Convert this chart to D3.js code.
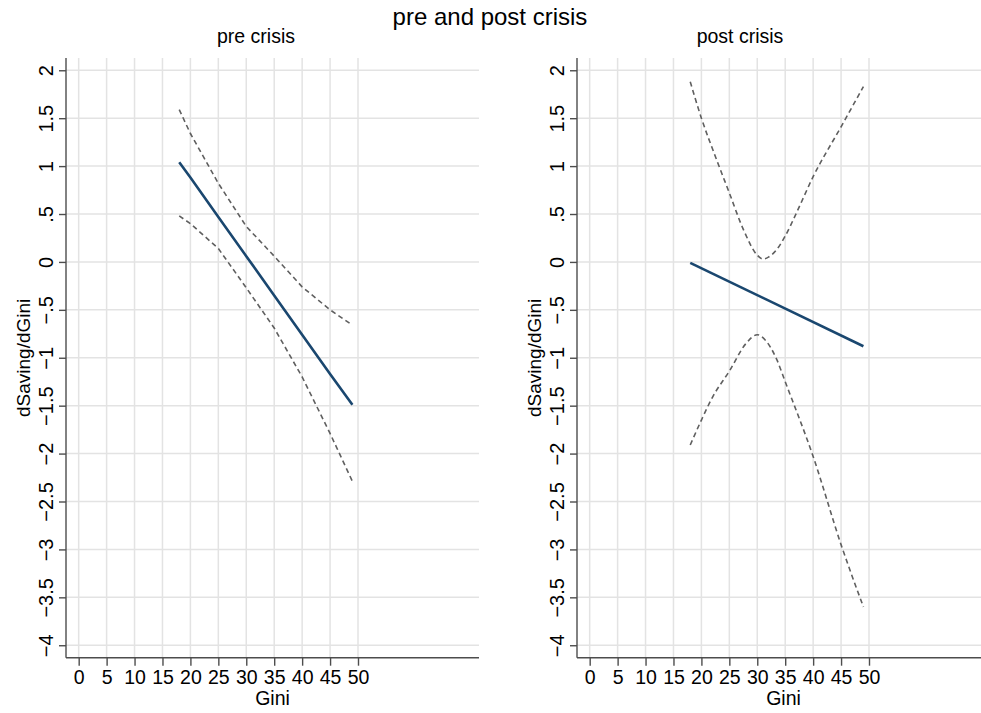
<!DOCTYPE html>
<html>
<head>
<meta charset="utf-8">
<script src="https://cdn.jsdelivr.net/npm/d3@7"></script>
<style>
  html, body { margin: 0; padding: 0; background: #fff; }
  svg { display: block; }
  text { font-family: "Liberation Sans", Arial, Helvetica, sans-serif; fill: #000; }
</style>
</head>
<body>
<script>
// ---- data ----
const chartTitle = "pre and post crisis";
const panelTitles = ["pre crisis", "post crisis"];
const xTicks = [0, 5, 10, 15, 20, 25, 30, 35, 40, 45, 50];
const yTicks = [2, 1.5, 1, 0.5, 0, -0.5, -1, -1.5, -2, -2.5, -3, -3.5, -4];
const yTickLabels = ["2", "1.5", "1", ".5", "0", "\u2212.5", "\u22121", "\u22121.5", "\u22122", "\u22122.5", "\u22123", "\u22123.5", "\u22124"];
const xTitle = "Gini";
const yTitle = "dSaving/dGini";

// pre crisis
const preGini   = [18, 20, 25, 30, 35, 40, 45, 49];
const preEffect = [1.04, 0.88, 0.47, 0.06, -0.35, -0.76, -1.17, -1.49];
const preUpper  = [1.59, 1.34, 0.82, 0.37, 0.06, -0.26, -0.50, -0.66];
const preLower  = [0.48, 0.40, 0.14, -0.27, -0.69, -1.20, -1.79, -2.29];

// post crisis
const postGini   = [18, 49];
const postEffect = [-0.01, -0.88];
const postUpperGini = [18, 20, 22.5, 25, 27.5, 30, 31, 32, 33.5, 35, 37, 40, 45, 49];
const postUpper     = [1.88, 1.50, 1.10, 0.72, 0.34, 0.07, 0.03, 0.05, 0.13, 0.27, 0.51, 0.89, 1.41, 1.83];
const postLowerGini = [18, 20, 22, 25, 28, 30, 31.5, 33.5, 35, 40, 45, 49];
const postLower     = [-1.91, -1.65, -1.41, -1.14, -0.85, -0.76, -0.82, -1.02, -1.25, -2.03, -2.95, -3.60];

// ---- layout ----
const W = 981, H = 713;
const svg = d3.select("body").append("svg").attr("width", W).attr("height", H);

const plotTop = 58, plotBottom = 657.7;
const plotW = 413;
const panels = [
  { left: 66, title: panelTitles[0], titleX: 256,
    effect: preGini.map((g, i) => [g, preEffect[i]]),
    upper: preGini.map((g, i) => [g, preUpper[i]]),
    lower: preGini.map((g, i) => [g, preLower[i]]),
    curve: d3.curveLinear },
  { left: 577, title: panelTitles[1], titleX: 740,
    effect: postGini.map((g, i) => [g, postEffect[i]]),
    upper: postUpperGini.map((g, i) => [g, postUpper[i]]),
    lower: postLowerGini.map((g, i) => [g, postLower[i]]),
    curve: d3.curveMonotoneX }
];

svg.append("text").attr("x", 490).attr("y", 25).attr("text-anchor", "middle")
  .style("font-size", "24px").text(chartTitle);

const y = d3.scaleLinear().domain([2.128, -4.13]).range([plotTop, plotBottom]);

panels.forEach(p => {
  const x = d3.scaleLinear().domain([-2.27, 71.66]).range([p.left, p.left + plotW]);
  const g = svg.append("g");
  const clipId = "clip" + p.left;
  svg.append("clipPath").attr("id", clipId).append("rect")
    .attr("x", p.left).attr("y", plotTop - 2).attr("width", plotW).attr("height", plotBottom - plotTop + 2);

  // gridlines
  g.append("g").selectAll("line").data(yTicks).join("line")
    .attr("x1", p.left).attr("x2", p.left + plotW)
    .attr("y1", d => y(d)).attr("y2", d => y(d))
    .attr("stroke", "#e3e3e3").attr("stroke-width", 1.5);
  g.append("g").selectAll("line").data(xTicks).join("line")
    .attr("x1", d => x(d)).attr("x2", d => x(d))
    .attr("y1", plotTop).attr("y2", plotBottom)
    .attr("stroke", "#e3e3e3").attr("stroke-width", 1.5);

  // axes
  const xAxis = d3.axisBottom(x).tickValues(xTicks).tickSize(8).tickPadding(4).tickSizeOuter(0);
  const gx = g.append("g").attr("transform", `translate(0,${plotBottom})`).call(xAxis);
  gx.select(".domain").attr("d", `M${p.left},0H${p.left + plotW}`);
  gx.selectAll("path,line").attr("stroke", "#4d4d4d").attr("stroke-width", 1.4);
  gx.selectAll("text").style("font-size", "19.5px").attr("fill", "#000");

  const yAxis = d3.axisLeft(y).tickValues(yTicks).tickFormat((d, i) => yTickLabels[i]).tickSize(7).tickSizeOuter(0);
  const gy = g.append("g").attr("transform", `translate(${p.left},0)`).call(yAxis);
  gy.select(".domain").attr("d", `M0,${plotTop}V${plotBottom}`);
  gy.selectAll("path,line").attr("stroke", "#4d4d4d").attr("stroke-width", 1.4);
  gy.selectAll(".tick text")
    .style("font-size", "20px").attr("fill", "#000")
    .attr("x", 0).attr("dy", 0)
    .attr("text-anchor", "middle")
    .attr("transform", "translate(-13,0) rotate(-90)");

  // axis titles
  g.append("text").attr("x", p.left + plotW / 2).attr("y", plotBottom + 47)
    .attr("text-anchor", "middle").style("font-size", "19.5px").text(xTitle);
  g.append("text").attr("transform", `translate(${p.left - 36},${(plotTop + plotBottom) / 2}) rotate(-90)`)
    .attr("text-anchor", "middle").style("font-size", "19px").text(yTitle);

  // panel title
  g.append("text").attr("x", p.titleX).attr("y", 43).attr("text-anchor", "middle")
    .style("font-size", "19.5px").text(p.title);

  // lines
  const lineGen = d3.line().x(d => x(d[0])).y(d => y(d[1])).curve(p.curve);
  const lg = g.append("g").attr("clip-path", `url(#${clipId})`);
  [p.upper, p.lower].forEach(ci => {
    lg.append("path").datum(ci).attr("d", lineGen)
      .attr("fill", "none").attr("stroke", "#5f5f5f").attr("stroke-width", 1.6)
      .attr("stroke-dasharray", "5,3.5");
  });
  lg.append("path").datum(p.effect).attr("d", d3.line().x(d => x(d[0])).y(d => y(d[1])))
    .attr("fill", "none").attr("stroke", "#1a476f").attr("stroke-width", 2.6);
});
</script>
</body>
</html>
